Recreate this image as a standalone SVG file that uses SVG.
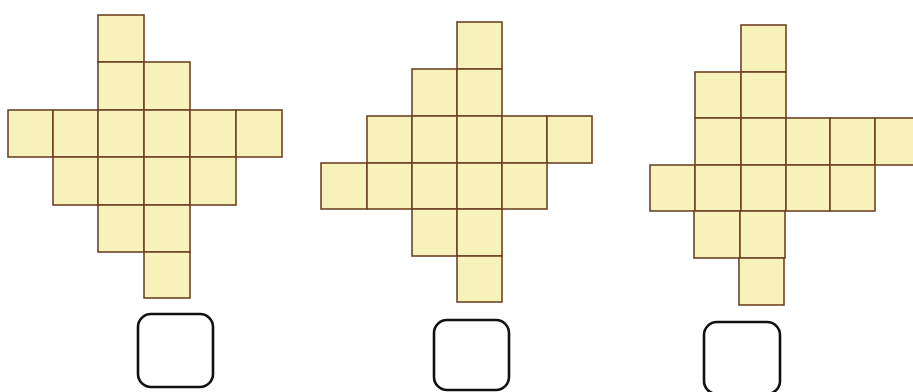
<svg xmlns="http://www.w3.org/2000/svg" width="913" height="392" viewBox="0 0 913 392">
<style>
.c{fill:#f7f2b9;stroke:#6e4426;stroke-width:1.6}
.b{fill:#fff;stroke:#111;stroke-width:2.6}
</style>
<rect width="913" height="392" fill="#fff"/>
<g id="figure1">
<rect class="c" x="98" y="15" width="46" height="47"/>
<rect class="c" x="98" y="62" width="46" height="48"/>
<rect class="c" x="144" y="62" width="46" height="48"/>
<rect class="c" x="8" y="110" width="45" height="47"/>
<rect class="c" x="53" y="110" width="45" height="47"/>
<rect class="c" x="98" y="110" width="46" height="47"/>
<rect class="c" x="144" y="110" width="46" height="47"/>
<rect class="c" x="190" y="110" width="46" height="47"/>
<rect class="c" x="236" y="110" width="46" height="47"/>
<rect class="c" x="53" y="157" width="45" height="48"/>
<rect class="c" x="98" y="157" width="46" height="48"/>
<rect class="c" x="144" y="157" width="46" height="48"/>
<rect class="c" x="190" y="157" width="46" height="48"/>
<rect class="c" x="98" y="205" width="46" height="47"/>
<rect class="c" x="144" y="205" width="46" height="47"/>
<rect class="c" x="144" y="252" width="46" height="46"/>
</g>
<g id="figure2">
<rect class="c" x="457" y="22" width="45" height="47"/>
<rect class="c" x="412" y="69" width="45" height="47"/>
<rect class="c" x="457" y="69" width="45" height="47"/>
<rect class="c" x="367" y="116" width="45" height="47"/>
<rect class="c" x="412" y="116" width="45" height="47"/>
<rect class="c" x="457" y="116" width="45" height="47"/>
<rect class="c" x="502" y="116" width="45" height="47"/>
<rect class="c" x="547" y="116" width="45" height="47"/>
<rect class="c" x="321" y="163" width="46" height="46"/>
<rect class="c" x="367" y="163" width="45" height="46"/>
<rect class="c" x="412" y="163" width="45" height="46"/>
<rect class="c" x="457" y="163" width="45" height="46"/>
<rect class="c" x="502" y="163" width="45" height="46"/>
<rect class="c" x="412" y="209" width="45" height="47"/>
<rect class="c" x="457" y="209" width="45" height="47"/>
<rect class="c" x="457" y="256" width="45" height="46"/>
</g>
<g id="figure3">
<rect class="c" x="741" y="25" width="45" height="47"/>
<rect class="c" x="695" y="72" width="46" height="46"/>
<rect class="c" x="741" y="72" width="45" height="46"/>
<rect class="c" x="695" y="118" width="46" height="47"/>
<rect class="c" x="741" y="118" width="45" height="47"/>
<rect class="c" x="786" y="118" width="44" height="47"/>
<rect class="c" x="830" y="118" width="45" height="47"/>
<rect class="c" x="875" y="118" width="46" height="47"/>
<rect class="c" x="650" y="165" width="45" height="46"/>
<rect class="c" x="695" y="165" width="46" height="46"/>
<rect class="c" x="741" y="165" width="45" height="46"/>
<rect class="c" x="786" y="165" width="44" height="46"/>
<rect class="c" x="830" y="165" width="45" height="46"/>
<rect class="c" x="694" y="211" width="46" height="47"/>
<rect class="c" x="740" y="211" width="45" height="47"/>
<rect class="c" x="739" y="258" width="45" height="47"/>
</g>
<g id="answer1"><rect class="b" x="138" y="314" width="75" height="73" rx="13"/></g>
<g id="answer2"><rect class="b" x="434" y="320" width="75" height="70" rx="13"/></g>
<g id="answer3"><rect class="b" x="704" y="322" width="76" height="72" rx="13"/></g>
</svg>
